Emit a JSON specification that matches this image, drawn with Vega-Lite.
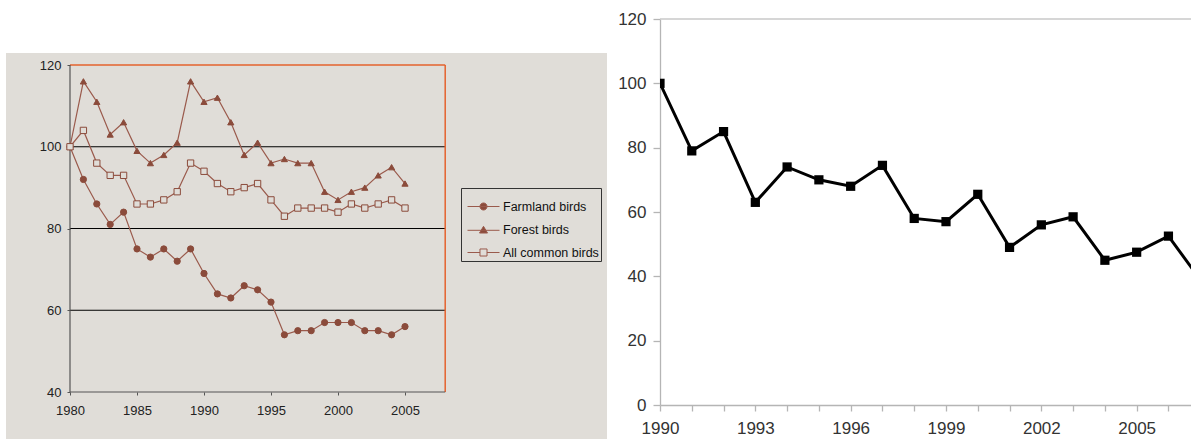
{
  "$schema": "https://vega.github.io/schema/vega-lite/v6.json",
  "padding": {"left": 6, "top": 10, "right": 0, "bottom": 0},
  "background": "white",
  "spacing": 10,
  "config": {
    "view": {"stroke": null},
    "font": "Liberation Sans",
    "axis": {"labelFlush": false, "labelOverlap": false, "grid": false, "title": null, "labelFont": "Liberation Sans"}
  },
  "datasets": {
    "birds": [
      {"year":1980,"series":"Farmland birds","index":100},{"year":1981,"series":"Farmland birds","index":92},{"year":1982,"series":"Farmland birds","index":86},{"year":1983,"series":"Farmland birds","index":81},{"year":1984,"series":"Farmland birds","index":84},{"year":1985,"series":"Farmland birds","index":75},{"year":1986,"series":"Farmland birds","index":73},{"year":1987,"series":"Farmland birds","index":75},{"year":1988,"series":"Farmland birds","index":72},{"year":1989,"series":"Farmland birds","index":75},{"year":1990,"series":"Farmland birds","index":69},{"year":1991,"series":"Farmland birds","index":64},{"year":1992,"series":"Farmland birds","index":63},{"year":1993,"series":"Farmland birds","index":66},{"year":1994,"series":"Farmland birds","index":65},{"year":1995,"series":"Farmland birds","index":62},{"year":1996,"series":"Farmland birds","index":54},{"year":1997,"series":"Farmland birds","index":55},{"year":1998,"series":"Farmland birds","index":55},{"year":1999,"series":"Farmland birds","index":57},{"year":2000,"series":"Farmland birds","index":57},{"year":2001,"series":"Farmland birds","index":57},{"year":2002,"series":"Farmland birds","index":55},{"year":2003,"series":"Farmland birds","index":55},{"year":2004,"series":"Farmland birds","index":54},{"year":2005,"series":"Farmland birds","index":56},
      {"year":1980,"series":"Forest birds","index":100},{"year":1981,"series":"Forest birds","index":116},{"year":1982,"series":"Forest birds","index":111},{"year":1983,"series":"Forest birds","index":103},{"year":1984,"series":"Forest birds","index":106},{"year":1985,"series":"Forest birds","index":99},{"year":1986,"series":"Forest birds","index":96},{"year":1987,"series":"Forest birds","index":98},{"year":1988,"series":"Forest birds","index":101},{"year":1989,"series":"Forest birds","index":116},{"year":1990,"series":"Forest birds","index":111},{"year":1991,"series":"Forest birds","index":112},{"year":1992,"series":"Forest birds","index":106},{"year":1993,"series":"Forest birds","index":98},{"year":1994,"series":"Forest birds","index":101},{"year":1995,"series":"Forest birds","index":96},{"year":1996,"series":"Forest birds","index":97},{"year":1997,"series":"Forest birds","index":96},{"year":1998,"series":"Forest birds","index":96},{"year":1999,"series":"Forest birds","index":89},{"year":2000,"series":"Forest birds","index":87},{"year":2001,"series":"Forest birds","index":89},{"year":2002,"series":"Forest birds","index":90},{"year":2003,"series":"Forest birds","index":93},{"year":2004,"series":"Forest birds","index":95},{"year":2005,"series":"Forest birds","index":91},
      {"year":1980,"series":"All common birds","index":100},{"year":1981,"series":"All common birds","index":104},{"year":1982,"series":"All common birds","index":96},{"year":1983,"series":"All common birds","index":93},{"year":1984,"series":"All common birds","index":93},{"year":1985,"series":"All common birds","index":86},{"year":1986,"series":"All common birds","index":86},{"year":1987,"series":"All common birds","index":87},{"year":1988,"series":"All common birds","index":89},{"year":1989,"series":"All common birds","index":96},{"year":1990,"series":"All common birds","index":94},{"year":1991,"series":"All common birds","index":91},{"year":1992,"series":"All common birds","index":89},{"year":1993,"series":"All common birds","index":90},{"year":1994,"series":"All common birds","index":91},{"year":1995,"series":"All common birds","index":87},{"year":1996,"series":"All common birds","index":83},{"year":1997,"series":"All common birds","index":85},{"year":1998,"series":"All common birds","index":85},{"year":1999,"series":"All common birds","index":85},{"year":2000,"series":"All common birds","index":84},{"year":2001,"series":"All common birds","index":86},{"year":2002,"series":"All common birds","index":85},{"year":2003,"series":"All common birds","index":86},{"year":2004,"series":"All common birds","index":87},{"year":2005,"series":"All common birds","index":85}
    ],
    "trend": [
      {"year":1990,"index":100},{"year":1991,"index":79},{"year":1992,"index":85},{"year":1993,"index":63},{"year":1994,"index":74},{"year":1995,"index":70},{"year":1996,"index":68},{"year":1997,"index":74.5},{"year":1998,"index":58},{"year":1999,"index":57},{"year":2000,"index":65.5},{"year":2001,"index":49},{"year":2002,"index":56},{"year":2003,"index":58.5},{"year":2004,"index":45},{"year":2005,"index":47.5},{"year":2006,"index":52.5},{"year":2007,"index":39}
    ]
  },
  "hconcat": [
    {
      "spacing": 0,
      "vconcat": [
        {
          "width": 601,
          "height": 34,
          "data": {"values": []},
          "mark": {"type": "point", "opacity": 0},
          "encoding": {
            "x": {"field": "a", "type": "quantitative", "axis": null},
            "y": {"field": "b", "type": "quantitative", "axis": null}
          }
        },
        {
          "width": 601,
          "height": 386,
          "view": {"fill": "#e0ddd8", "stroke": null},
          "layer": [
            {
              "data": {"values": [{"v": 60}, {"v": 80}, {"v": 100}]},
              "mark": {"type": "rule", "color": "#000000", "strokeWidth": 1},
              "encoding": {
                "y": {"field": "v", "type": "quantitative", "scale": {"domain": [28.502, 122.936], "nice": false, "zero": false},
                      "axis": {"values": [40, 60, 80, 100, 120], "offset": -64, "domain": false, "tickSize": 3, "tickColor": "#555555", "labelPadding": 6, "labelFontSize": 13, "labelColor": "#222222"}},
                "x": {"datum": 1980, "type": "quantitative", "scale": {"domain": [1975.224, 2020.075], "nice": false, "zero": false},
                      "axis": {"values": [1980, 1985, 1990, 1995, 2000, 2005], "format": "d", "offset": -47, "domain": false, "tickSize": 3, "tickColor": "#555555", "labelPadding": 9, "labelFontSize": 13, "labelColor": "#222222"}},
                "x2": {"datum": 2008}
              }
            },
            {
              "data": {"values": [{}]},
              "mark": {"type": "rule", "color": "#e4622e", "strokeWidth": 1.5},
              "encoding": {
                "y": {"datum": 120, "type": "quantitative", "scale": {"domain": [28.502, 122.936], "nice": false, "zero": false}},
                "x": {"datum": 1980, "type": "quantitative", "scale": {"domain": [1975.224, 2020.075], "nice": false, "zero": false}},
                "x2": {"datum": 2008}
              }
            },
            {
              "data": {"values": [{}]},
              "mark": {"type": "rule", "color": "#e4622e", "strokeWidth": 1.5},
              "encoding": {
                "x": {"datum": 2008, "type": "quantitative", "scale": {"domain": [1975.224, 2020.075], "nice": false, "zero": false}},
                "y": {"datum": 40, "type": "quantitative", "scale": {"domain": [28.502, 122.936], "nice": false, "zero": false}},
                "y2": {"datum": 120}
              }
            },
            {
              "data": {"values": [{}]},
              "mark": {"type": "rule", "color": "#555555", "strokeWidth": 1.2},
              "encoding": {
                "x": {"datum": 1980, "type": "quantitative", "scale": {"domain": [1975.224, 2020.075], "nice": false, "zero": false}},
                "y": {"datum": 40, "type": "quantitative", "scale": {"domain": [28.502, 122.936], "nice": false, "zero": false}},
                "y2": {"datum": 120}
              }
            },
            {
              "data": {"values": [{}]},
              "mark": {"type": "rule", "color": "#555555", "strokeWidth": 1.2},
              "encoding": {
                "y": {"datum": 40, "type": "quantitative", "scale": {"domain": [28.502, 122.936], "nice": false, "zero": false}},
                "x": {"datum": 1980, "type": "quantitative", "scale": {"domain": [1975.224, 2020.075], "nice": false, "zero": false}},
                "x2": {"datum": 2008}
              }
            },
            {
              "data": {"name": "birds"},
              "mark": {"type": "line", "strokeWidth": 1.2},
              "encoding": {
                "x": {"field": "year", "type": "quantitative", "scale": {"domain": [1975.224, 2020.075], "nice": false, "zero": false}},
                "y": {"field": "index", "type": "quantitative", "scale": {"domain": [28.502, 122.936], "nice": false, "zero": false}},
                "color": {
                  "field": "series", "type": "nominal",
                  "scale": {"domain": ["Farmland birds", "Forest birds", "All common birds"], "range": ["#9a5a4c", "#9a5a4c", "#9a5a4c"]},
                  "legend": {
                    "orient": "none", "legendX": 455, "legendY": 169, "title": null,
                    "padding": 2, "strokeColor": "#333333", "fillColor": "#e0ddd8",
                    "symbolSize": 1024, "symbolOffset": 4, "labelFontSize": 12.5, "labelColor": "#111111", "labelOffset": 3, "rowPadding": 0,
                    "encode": {
                      "symbols": {
                        "update": {
                          "shape": {"signal": "datum.value === 'Farmland birds' ? 'M-1,0L1,0M0.22,0A0.22,0.22,0,1,1,-0.22,0A0.22,0.22,0,1,1,0.22,0Z' : datum.value === 'Forest birds' ? 'M-1,0.05L1,0.05M0,-0.2L0.25,0.22L-0.25,0.22Z' : 'M-1,0L-0.22,0M0.22,0L1,0M-0.22,-0.22L0.22,-0.22L0.22,0.22L-0.22,0.22Z'"},
                          "fill": {"signal": "datum.value === 'All common birds' ? '#e0ddd8' : '#8b4b3b'"},
                          "strokeWidth": {"value": 1},
                          "opacity": {"value": 1}
                        }
                      }
                    }
                  }
                }
              }
            },
            {
              "data": {"name": "birds"},
              "mark": {"type": "point", "filled": true, "stroke": "#8b4b3b", "strokeWidth": 1, "opacity": 1},
              "encoding": {
                "x": {"field": "year", "type": "quantitative", "scale": {"domain": [1975.224, 2020.075], "nice": false, "zero": false}},
                "y": {"field": "index", "type": "quantitative", "scale": {"domain": [28.502, 122.936], "nice": false, "zero": false}},
                "shape": {"field": "series", "type": "nominal", "scale": {"domain": ["All common birds", "Farmland birds", "Forest birds"], "range": ["square", "circle", "triangle-up"]}, "legend": null},
                "fill": {"field": "series", "type": "nominal", "scale": {"domain": ["All common birds", "Farmland birds", "Forest birds"], "range": ["#e0ddd8", "#8b4b3b", "#8b4b3b"]}, "legend": null},
                "size": {"field": "series", "type": "nominal", "scale": {"domain": ["All common birds", "Farmland birds", "Forest birds"], "range": [40, 38, 62]}, "legend": null}
              }
            }
          ]
        }
      ]
    },
    {
      "width": 531,
      "height": 386,
      "layer": [
        {
          "data": {"values": [{}]},
          "mark": {"type": "rule", "color": "#c8c8c8", "strokeWidth": 1.5},
          "encoding": {
            "y": {"datum": 120, "type": "quantitative", "scale": {"domain": [0, 120], "nice": false, "zero": true}}
          }
        },
        {
          "data": {"name": "trend"},
          "mark": {"type": "line", "color": "#000000", "strokeWidth": 3, "clip": true},
          "encoding": {
            "x": {"field": "year", "type": "quantitative", "scale": {"domain": [1990, 2006.71], "nice": false, "zero": false},
                  "axis": {"values": [1990,1991,1992,1993,1994,1995,1996,1997,1998,1999,2000,2001,2002,2003,2004,2005,2006], "tickCount": 30, "labelExpr": "(datum.value - 1990) % 3 === 0 ? '' + datum.value : ''", "labelOverlap": false, "domainColor": "#b5b5b5", "domainWidth": 1.3, "tickColor": "#b5b5b5", "tickWidth": 1.3, "tickSize": 6, "labelPadding": 9, "labelFontSize": 17, "labelColor": "#333333"}},
            "y": {"field": "index", "type": "quantitative", "scale": {"domain": [0, 120], "nice": false, "zero": true},
                  "axis": {"values": [0, 20, 40, 60, 80, 100, 120], "tickCount": 20, "labelOverlap": false, "domainColor": "#b5b5b5", "domainWidth": 1.3, "tickColor": "#b5b5b5", "tickWidth": 1.3, "tickSize": 7, "labelPadding": 7, "labelFontSize": 17, "labelColor": "#333333"}}
          }
        },
        {
          "data": {"name": "trend"},
          "mark": {"type": "square", "color": "#000000", "size": 85, "opacity": 1, "filled": true, "clip": true},
          "encoding": {
            "x": {"field": "year", "type": "quantitative", "scale": {"domain": [1990, 2006.71], "nice": false, "zero": false}},
            "y": {"field": "index", "type": "quantitative", "scale": {"domain": [0, 120], "nice": false, "zero": true}}
          }
        }
      ]
    }
  ]
}
